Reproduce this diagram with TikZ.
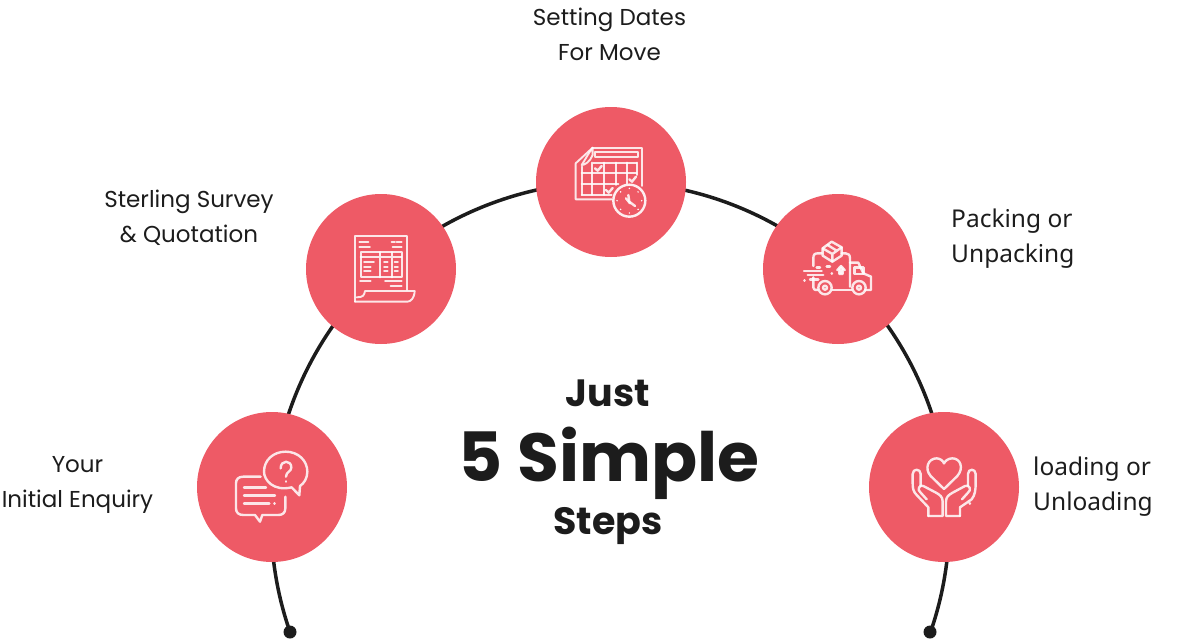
\documentclass[tikz,border=0pt]{standalone}
\usepackage{fontspec}
\setmainfont{Noto Sans}
\newfontfamily\headfont{Poppins}
\newfontfamily\labfont{Poppins}
\tikzset{
  stepdisc/.style={circle,fill=stepred,draw=none,minimum size=150pt,inner sep=0pt},
  rail/.style={draw=railblack,line width=3.5pt},
  raildot/.style={circle,fill=railblack,draw=none,minimum size=13pt,inner sep=0pt},
  steplabel/.style={align=center,font=\labfont\fontsize{23}{35}\selectfont,text=railblack,inner sep=0pt},
  sidelabel/.style={align=left,anchor=west,font=\fontsize{24.5}{35}\selectfont,text=railblack,inner sep=0pt},
  headsmall/.style={anchor=base,text=railblack,font=\headfont\bfseries\fontsize{38}{38}\selectfont,inner sep=0pt},
  headbig/.style={anchor=base,text=railblack,font=\headfont\bfseries\fontsize{68}{68}\selectfont,inner sep=0pt},
  ic/.style={draw=white,line width=2.4pt,line join=round,line cap=round,opacity=.85},
  icthin/.style={ic,line width=1.9pt},
  zoomed/.style 2 args={shift={(#1pt,-#2pt)},x=0.33333pt,y=-0.33333pt},
}
\definecolor{stepred}{HTML}{EE5A66}
\definecolor{railblack}{HTML}{1C1C1C}
\begin{document}
\begin{tikzpicture}[x=1pt,y=-1pt]
\useasboundingbox (0,0) rectangle (1200,640);
\node[raildot] (dl) at (290,632) {};
\node[raildot] (dr) at (930,632) {};
\draw[rail] (dl.center) arc[start angle=160.87,end angle=379.13,radius=339];
\node[stepdisc] (s1) at (272,487) {};
\node[stepdisc] (s2) at (381,269) {};
\node[stepdisc] (s3) at (611,182) {};
\node[stepdisc] (s4) at (838,269) {};
\node[stepdisc] (s5) at (944,487) {};

% icon 1
\begin{scope}[zoomed={190}{400}]
\draw[ic] (212,230) -- (160,230) .. controls (145,230) and (138,238) .. (138,250) -- (138,325) .. controls (138,338) and (146,345) .. (160,345) -- (195,345) -- (210,365) -- (217,345) -- (265,345) .. controls (278,345) and (286,338) .. (286,325) -- (286,290);
\draw[ic] (162,263) -- (228,263) (162,287) -- (255,287) (162,311) -- (238,311);
\draw[ic] (253,311) -- (254,311);
\draw[ic] (305,262) .. controls (250,275) and (222,240) .. (222,215) .. controls (222,180) and (250,155) .. (287,155) .. controls (325,155) and (352,182) .. (352,215) .. controls (352,235) and (342,250) .. (330,258) -- (328,286) -- (305,262);
\draw[ic] (272,205) .. controls (272,178) and (305,180) .. (304,203) .. controls (304,215) and (288,215) .. (288,230);
\draw[ic] (288,244) -- (288,245);
\end{scope}

% icon 2
\begin{scope}[zoomed={300}{190}]
\draw[icthin] (165,335) -- (165,138) -- (322,138) -- (322,300);
\draw[icthin] (165,335) -- (322,335) .. controls (332,335) and (343,325) .. (344,303) -- (195,303) .. controls (193,315) and (190,322) .. (170,322);
\draw[icthin] (182,186) rectangle (305,262);
\draw[icthin] (182,200) -- (305,200) (240,186) -- (240,262) (275,186) -- (275,262);
\draw[icthin] (178,155) -- (205,155) (178,170) -- (210,170) (275,155) -- (285,155) (290,155) -- (305,155) (278,170) -- (305,170);
\draw[icthin] (192,215) -- (222,215) (192,230) -- (212,230) (192,244) -- (212,244);
\draw[icthin] (252,215) -- (263,215) (252,230) -- (263,230) (252,244) -- (263,244) (284,215) -- (294,215) (284,230) -- (294,230) (284,244) -- (294,244);
\draw[icthin] (180,274) -- (212,274) (255,274) -- (305,274) (272,288) -- (305,288);
\end{scope}

% icon 3
\begin{scope}[zoomed={530}{100}]
\draw[icthin] (188,143) -- (336,143) -- (336,258);
\draw[icthin] (188,143) -- (188,165) .. controls (180,185) and (165,195) .. (155,195) .. controls (165,180) and (175,160) .. (188,143);
\draw[icthin] (188,143) -- (137,190) -- (137,298) -- (245,298);
\draw[icthin] (195,156) rectangle (325,172);
\draw[icthin] (190,188) -- (320,188) (155,220) -- (320,220) (155,252) -- (265,252) (155,285) -- (245,285);
\draw[icthin] (155,200) -- (155,285) (187,188) -- (187,285) (222,188) -- (222,285) (257,188) -- (257,255) (290,188) -- (290,250) (320,188) -- (320,225);
\draw[ic] (195,205) -- (203,212) -- (215,198) (298,238) -- (306,245) -- (318,230) (228,270) -- (236,278) -- (248,264);
\draw[ic,fill=stepred,opacity=1,draw opacity=.9] (298,302) circle[radius=48];
\draw[ic] (295,285) -- (298,305) -- (315,318);
\draw[ic] (288,295) -- (300,310);
\foreach \a in {0,45,...,315}{\fill[white] (298,302) ++(\a:37) circle[radius=2.5];}
\end{scope}

% icon 4
\begin{scope}[zoomed={755}{190}]
\draw[ic] (200,190) -- (188,190) .. controls (178,190) and (175,195) .. (175,205) -- (175,228);
\draw[ic] (260,190) -- (272,190) .. controls (280,190) and (285,195) .. (285,205) -- (285,290);
\draw[ic] (203,175) -- (230,155) -- (260,172) -- (260,197) -- (232,215) -- (203,197) -- cycle;
\draw[ic] (203,175) -- (232,192) -- (260,172) (232,192) -- (232,215) (218,165) -- (245,182);
\draw[ic] (175,262) -- (175,292) .. controls (175,298) and (178,300) .. (188,300);
\draw[ic] (232,300) -- (290,300);
\draw[ic] (330,300) -- (348,300) -- (348,260) -- (325,250) -- (310,218) -- (285,218);
\draw[ic] (298,232) -- (325,232) -- (325,252) -- (298,252) -- cycle;
\draw[ic] (210,293) circle[radius=20] (210,293) circle[radius=6];
\draw[ic] (312,293) circle[radius=20] (312,293) circle[radius=6];
\draw[ic] (147,243) -- (200,243) (158,255) -- (205,255) (215,230) -- (225,230) (185,232) -- (195,232);
\draw[ic] (148,271) -- (149,271) (165,268) -- (190,268) (230,250) -- (231,250);
\draw[ic,fill=white] (258,228) -- (247,240) -- (253,240) -- (253,252) -- (263,252) -- (263,240) -- (269,240) -- cycle;
\end{scope}

% icon 5
\begin{scope}[zoomed={860}{400}]
\draw[ic] (252,267) -- (212,228) .. controls (192,205) and (205,175) .. (230,175) .. controls (240,175) and (250,183) .. (252,190) .. controls (255,183) and (265,175) .. (277,175) .. controls (302,175) and (312,205) .. (292,228) -- cycle;
\draw[ic] (205,348) -- (205,322) -- (170,285) .. controls (160,275) and (158,265) .. (158,250) -- (158,222) .. controls (158,205) and (182,205) .. (182,222) -- (182,258);
\draw[ic] (205,348) -- (248,348) -- (248,305) .. controls (248,290) and (240,285) .. (228,278) -- (190,258) .. controls (178,252) and (170,270) .. (182,278) -- (200,298);
\draw[ic] (300,348) -- (300,322) -- (335,298) .. controls (345,285) and (347,270) .. (347,250) -- (347,222) .. controls (347,205) and (324,205) .. (324,222) -- (324,258);
\draw[ic] (300,348) -- (258,348) -- (258,305) .. controls (258,290) and (266,285) .. (278,278) -- (315,258) .. controls (328,252) and (336,270) .. (324,278) -- (306,298);
\draw[ic] (329,310) -- (330,310);
\end{scope}

\node[steplabel] (t3) at (609.5,34.5) {Setting Dates\\For Move};
\node[steplabel] (t2) at (189,218) {Sterling Survey\\\& Quotation};
\node[sidelabel] (t4) at (951,239) {Packing or\\Unpacking};
\node[steplabel] (t1) at (77.5,485) {Your\\Initial Enquiry};
\node[sidelabel] (t5) at (1033,487) {loading or\\Unloading};
\node[headsmall] (h1) at (608,406) {Just};
\node[headbig] (h2) at (609,481) {5 Simple};
\node[headsmall] (h3) at (608,534) {Steps};
\end{tikzpicture}
\end{document}
